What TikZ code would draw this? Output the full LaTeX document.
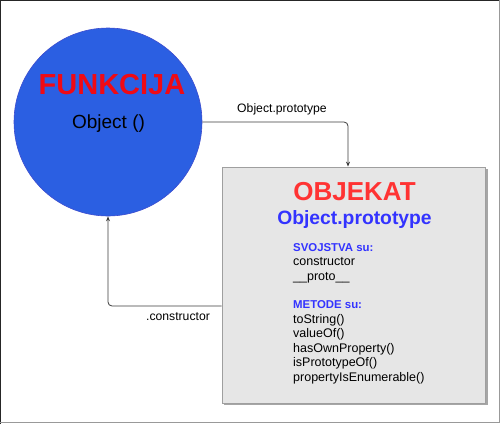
\documentclass[tikz,border=0pt]{standalone}
\usepackage{fontspec}
\setmainfont{Liberation Sans}
\usetikzlibrary{arrows.meta,calc}
\definecolor{fnblue}{RGB}{43,95,226}
\definecolor{fnred}{RGB}{240,10,20}
\definecolor{objred}{RGB}{255,51,51}
\definecolor{objblue}{RGB}{51,51,255}
\definecolor{boxfill}{RGB}{230,230,230}
\definecolor{linecol}{RGB}{60,60,60}
\tikzset{
  fncircle/.style={circle,fill=fnblue,draw=fnblue!80!violet,line width=0.6pt,minimum size=188pt,inner sep=0pt},
  objbox/.style={rectangle,fill=boxfill,draw=gray!75,line width=0.8pt,minimum width=263pt,minimum height=236pt,inner sep=0pt},
  conn/.style={draw=linecol,line width=0.8pt,rounded corners=4pt,-{Stealth[length=5pt,width=4pt]}},
  lbl/.style={font=\fontsize{12.2}{14}\selectfont,anchor=base,inner sep=0pt},
  item/.style={font=\fontsize{12.5}{14}\selectfont,anchor=base west,inner sep=0pt},
  head/.style={font=\fontsize{11.4}{14}\selectfont\bfseries,text=objblue,anchor=base west,inner sep=0pt}
}
\begin{document}
\begin{tikzpicture}[x=1pt,y=-1pt]
\useasboundingbox (0,0) rectangle (500,424);
% outer frame
\draw[black!85,line width=1.2pt] (0.6,424) -- (0.6,0.6) -- (500,0.6);
\draw[gray!80,line width=1pt] (499.3,0) -- (499.3,422.8) -- (0,422.8);
% function circle
\node[fncircle] (fn) at (108,122) {};
\node[font=\fontsize{29}{34}\selectfont\bfseries,text=fnred,anchor=base,inner sep=0pt] (fntitle) at (112,94) {FUNKCIJA};
\node[font=\fontsize{19}{22}\selectfont,anchor=base,inner sep=0pt] (fnname) at (108.5,128) {Object ()};
% object box with shadow
\fill[gray!70] (224,169) rectangle (487.5,405);
\node[objbox] (obj) at (353.5,285) {};
\node[font=\fontsize{26}{30}\selectfont\bfseries,text=objred,anchor=base,inner sep=0pt] (objtitle) at (354.5,200) {OBJEKAT};
\node[font=\fontsize{19.3}{22}\selectfont\bfseries,text=objblue,anchor=base,inner sep=0pt] (objname) at (354.5,224) {Object.prototype};
\node[head] (svo) at (293,251) {SVOJSTVA su:};
\node[item] (p1) at (293,265.5) {constructor};
\node[item] (p2) at (293,280) {\_\_proto\_\_};
\node[head] (met) at (293,308.5) {METODE su:};
\node[item] (m1) at (293,323) {toString()};
\node[item] (m2) at (293,337.5) {valueOf()};
\node[item] (m3) at (293,352) {hasOwnProperty()};
\node[item] (m4) at (293,366.5) {isPrototypeOf()};
\node[item] (m5) at (293,381) {propertyIsEnumerable()};
% connectors
\draw[conn] (fn.east) -| ([xshift=-5.5pt]obj.north);
\node[lbl] (l1) at (282,112) {Object.prototype};
\draw[conn] ([yshift=-21pt]obj.west) -| (fn.south);
\node[lbl] (l2) at (178,320) {.constructor};
\end{tikzpicture}
\end{document}
